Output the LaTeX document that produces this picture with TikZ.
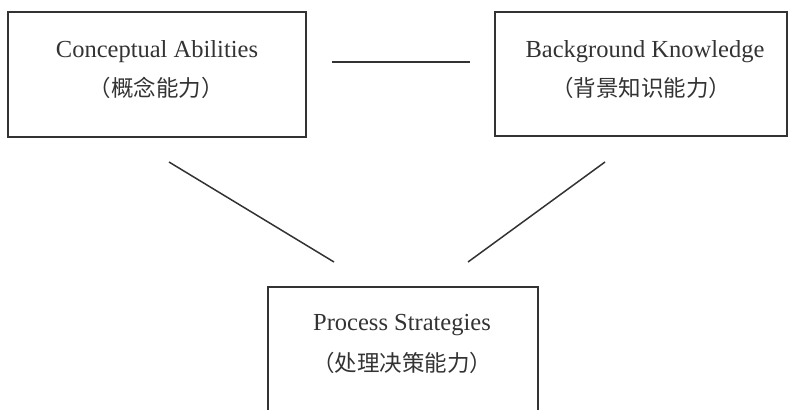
\documentclass[tikz,border=0pt]{standalone}
\usepackage{fontspec}
\setmainfont{Liberation Serif}
\newfontfamily\cjk{Noto Sans CJK SC}
\definecolor{ink}{HTML}{333333}
\begin{document}
\begin{tikzpicture}[x=1pt,y=-1pt,
  boxstyle/.style={draw=ink,line width=1.5pt,inner sep=0pt},
  entext/.style={text=ink,inner sep=0pt,font=\fontsize{24.5}{28}\selectfont},
  cntext/.style={text=ink,inner sep=0pt,font=\cjk\fontsize{22.5}{26}\selectfont},
  link/.style={draw=ink,line width=1.5pt}]
\useasboundingbox (0,0) rectangle (791,409);
\begin{scope}
\clip (0,0) rectangle (791,409);
\node[boxstyle,minimum width=298pt,minimum height=125pt] (ca) at (157,74.5) {};
\node[boxstyle,minimum width=292pt,minimum height=124pt] (bk) at (641,74) {};
\node[boxstyle,minimum width=270pt,minimum height=160pt,anchor=north] (ps) at (403,286) {};
\end{scope}
\node[entext] (ca1) at (157,52) {Conceptual Abilities};
\node[cntext] (ca2) at (156,88) {（概念能力）};
\node[entext] (bk1) at (645,52) {Background Knowledge};
\node[cntext] (bk2) at (641,88) {（背景知识能力）};
\node[entext] (ps1) at (402,325) {Process Strategies};
\node[cntext] (ps2) at (402,363) {（处理决策能力）};
\coordinate (h1) at (332,62);
\coordinate (h2) at (470,62);
\coordinate (l1) at (169,162);
\coordinate (l2) at (334,262);
\coordinate (r1) at (605,162);
\coordinate (r2) at (468,262);
\draw[link] (h1) -- (h2);
\draw[link] (l1) -- (l2);
\draw[link] (r1) -- (r2);
\end{tikzpicture}
\end{document}
